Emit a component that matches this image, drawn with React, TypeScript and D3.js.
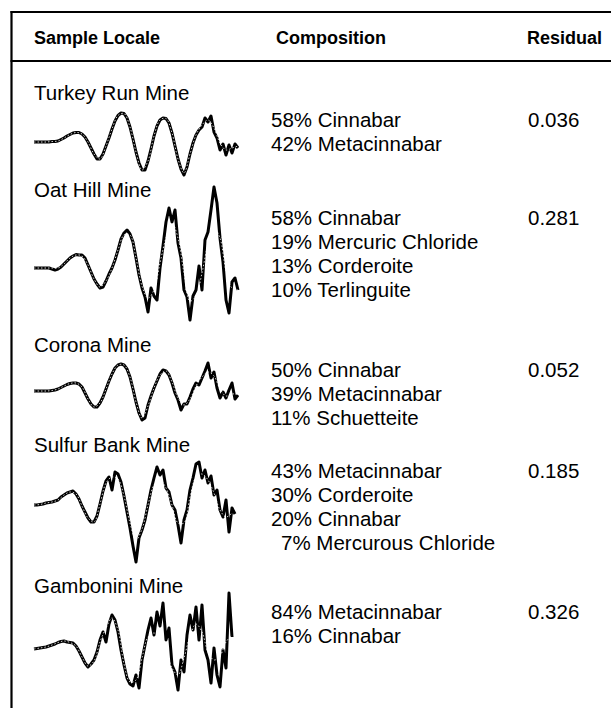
import * as d3 from 'd3';
import React from 'react';

// Table text
const headers = ["Sample Locale", "Composition", "Residual"];
const locales = ["Turkey Run Mine", "Oat Hill Mine", "Corona Mine", "Sulfur Bank Mine", "Gambonini Mine"];
const compositions = [
	["58% Cinnabar", "42% Metacinnabar"],
	["58% Cinnabar", "19% Mercuric Chloride", "13% Corderoite", "10% Terlinguite"],
	["50% Cinnabar", "39% Metacinnabar", "11% Schuetteite"],
	["43% Metacinnabar", "30% Corderoite", "20% Cinnabar", "7% Mercurous Chloride"],
	["84% Metacinnabar", "16% Cinnabar"],
];
const residuals = ["0.036", "0.281", "0.052", "0.185", "0.326"];

// EXAFS traces: data every 0.15 (k from 2), fit every 0.3
const K_START = 2;
const K_END = 12.2;
const DATA_STEP = 0.15;
const FIT_STEP = 0.3;

const turkeyRunData = [0,0,0,0,0,0,0.05,0.05,0.1,0.25,0.4,0.6,0.75,0.9,0.95,0.95,0.8,0.5,0,-0.6,-1.2,-1.7,-1.7,-1.2,-0.4,0.4,1.3,2.1,2.65,2.9,2.85,2.4,1.5,0.3,-1.0,-2.1,-2.8,-2.8,-1.9,-0.7,0.6,1.6,2.2,2.4,2.35,1.9,0.9,-0.4,-1.7,-2.7,-3.3,-2.5,-1.2,-0.1,0.7,1.2,1.5,2.4,2.0,2.6,1.0,0.4,-0.8,-0.2,-1.3,-0.3,-1.1,-0.2,-0.6];
const turkeyRunFit = [0,0,0,0.05,0.1,0.4,0.75,0.95,0.8,0,-1.2,-1.7,-0.4,1.3,2.65,2.85,1.5,-1.0,-2.8,-1.9,0.6,2.2,2.35,0.9,-1.7,-3.1,-1.2,0.7,1.7,2.2,1.4,-0.1,-0.8,-0.6,-0.4];

const oatHillData = [0,0,0,0,0,0,-0.1,-0.2,-0.1,0.1,0.4,0.7,1.0,1.2,1.35,1.3,1.3,1.0,0.3,-0.4,-1.1,-1.6,-2.0,-1.9,-1.3,-0.6,0,0.8,1.8,2.9,3.5,3.8,3.4,2.6,1.0,-0.7,-2.0,-2.9,-4.4,-2.0,-2.8,-3.2,0,2.2,4.6,6.0,4.6,5.8,2.5,1.0,-2.2,-2.9,-5.2,-2.8,-2.2,0.2,-2.2,2.8,3.6,5.8,8.1,6.5,3.0,0.6,-3.2,-4.5,-1.4,-1.0,-2.2];
const oatHillFit = [0,0,0,0,0,0.4,1.0,1.3,1.2,0.3,-1.1,-1.9,-1.3,0,1.8,3.3,3.3,1.0,-1.8,-3.0,-2.2,0.5,3.0,4.5,3.0,-0.5,-3.3,-2.8,-0.5,2.4,4.0,3.0,-0.3,-2.0,-2.2];

const coronaData = [0,0,0,0,0,0,0.05,0.1,0.2,0.35,0.5,0.65,0.75,0.8,0.8,0.7,0.4,-0.2,-0.8,-1.3,-1.6,-1.6,-1.2,-0.6,0.2,1.0,1.7,2.3,2.6,2.7,2.6,2.2,1.4,0.2,-1.1,-2.2,-2.9,-2.7,-1.4,-0.5,0.3,1.0,1.7,2.1,2.0,1.6,0.8,-0.2,-0.9,-1.9,-1.3,-1.3,-0.6,0.2,0.8,0.6,1.3,2.0,2.8,1.3,1.9,0.3,-0.7,-0.1,-0.7,0.1,0.8,-0.8,-0.4];
const coronaFit = [0,0,0,0.05,0.2,0.5,0.75,0.8,0.4,-0.8,-1.6,-1.2,0.2,1.7,2.6,2.6,1.4,-1.1,-2.7,-1.5,0.3,1.6,2.0,0.9,-0.7,-1.4,-0.8,0.5,1.4,1.9,1.5,0.2,-0.5,-0.3,-0.3];

const sulfurBankData = [0,0,0.05,0.1,0.2,0.25,0.3,0.4,0.5,0.8,1.0,1.2,1.3,1.4,1.1,0.6,-0.1,-0.7,-1.3,-1.7,-1.7,-1.1,0.1,1.4,2.4,2.8,1.5,3.3,3.1,2.3,0.9,-0.7,-2.3,-4.1,-5.7,-3.3,-2.5,-1.5,0,1.5,2.7,3.8,3.0,3.5,1.7,1.3,0,-0.5,-2.0,-3.8,-1.5,-0.5,1.5,2.7,4.1,4.3,2.7,3.5,2.2,2.9,1.0,1.5,-0.5,-1.2,0.5,-2.7,-0.3,-0.9];
const sulfurBankFit = [0,0.05,0.2,0.3,0.5,1.0,1.3,1.1,-0.1,-1.3,-1.7,0.1,2.2,2.8,2.6,0.9,-1.8,-3.5,-2.4,0,2.0,2.5,1.7,0,-1.8,-1.8,0.8,2.8,3.1,2.5,1.2,-0.5,-1.2,-0.8];

const gamboniniData = [0.1,0.15,0.2,0.25,0.3,0.4,0.5,0.6,0.75,0.85,0.9,0.8,0.75,0.7,0.4,-0.1,-0.7,-1.3,-1.7,-1.4,-1.0,-0.2,1.0,1.8,0.8,2.6,3.5,3.0,1.8,0,-1.5,-2.8,-3.4,-3.6,-2.5,-3.8,-1.0,0.5,2.0,3.2,1.5,3.8,2.4,4.7,1.0,2.2,-1.5,-2.2,-4.0,-1.0,-2.2,1.5,3.5,2.0,4.3,1.0,4.5,0,-1.0,-3.3,0.2,-2.5,-3.7,0,-1.8,5.7,1.3];
const gamboniniFit = [0.1,0.2,0.3,0.5,0.75,0.9,0.75,0.4,-0.7,-1.6,-1.1,0.8,2.2,3.2,2.0,-1.4,-3.2,-3.0,-0.8,1.3,1.7,1.2,0,-1.8,-2.5,-0.8,1.4,2.6,1.8,-0.2,-1.0,-0.6,0.8,1.5];

const traceData = [turkeyRunData, oatHillData, coronaData, sulfurBankData, gamboniniData];
const traceFit = [turkeyRunFit, oatHillFit, coronaFit, sulfurBankFit, gamboniniFit];

// layout (baselines in px)
const W = 611, H = 708;
const rowName = [100, 197, 352, 452, 593];
const rowTrace = [142, 268, 391, 505, 650];
const rowComp = [127, 225, 377, 478, 619];
const LINE_H = 24;
const FONT = "'Liberation Sans', Arial, Helvetica, sans-serif";

const App = () => {
	const x = d3.scaleLinear().domain([K_START, K_END]).range([34, 238]);

	const makeLine = (base: number, step: number) => {
		const y = d3.scaleLinear().domain([0, 1]).range([base, base - 10]);
		return d3.line<number>()
			.x((d, i) => x(K_START + i * step))
			.y(d => y(d));
	};

	return (
		<div style={{ position: "absolute", left: 0, top: 0 }}>
			<svg width={W} height={H} style={{ display: "block", background: "#fff" }}>
				{/* table frame */}
				<line x1={11.5} x2={11.5} y1={11} y2={H} stroke="#000" strokeWidth={2.2} />
				<line x1={10.5} x2={W} y1={12} y2={12} stroke="#000" strokeWidth={2} />
				<line x1={10.5} x2={W} y1={61} y2={61} stroke="#000" strokeWidth={2} />

				{/* header */}
				<g fontFamily={FONT} fontWeight="bold" fontSize={18} fill="#000">
					<text x={34} y={44}>{headers[0]}</text>
					<text x={276} y={44}>{headers[1]}</text>
					<text x={527} y={44}>{headers[2]}</text>
				</g>

				{locales.map((name, r) => {
					const dataLine = makeLine(rowTrace[r], DATA_STEP);
					const fitLine = makeLine(rowTrace[r], FIT_STEP).curve(d3.curveCatmullRom);
					return (
						<g key={name} fontFamily={FONT} fontSize={20.5} fill="#000">
							<text x={34} y={rowName[r]}>{name}</text>
							<path d={dataLine(traceData[r]) || ""} fill="none" stroke="#000"
								strokeWidth={3} strokeLinejoin="round" />
							<path d={fitLine(traceFit[r]) || ""} fill="none" stroke="#fff"
								strokeWidth={0.9} strokeDasharray="1.5 2" opacity={0.9} />
							{compositions[r].map((c, j) => (
								<text key={c} x={c.indexOf("%") < 2 ? 281 : 271} y={rowComp[r] + j * LINE_H}>{c}</text>
							))}
							<text x={528} y={rowComp[r]}>{residuals[r]}</text>
						</g>
					);
				})}
			</svg>
		</div>
	);
};

export default App;
